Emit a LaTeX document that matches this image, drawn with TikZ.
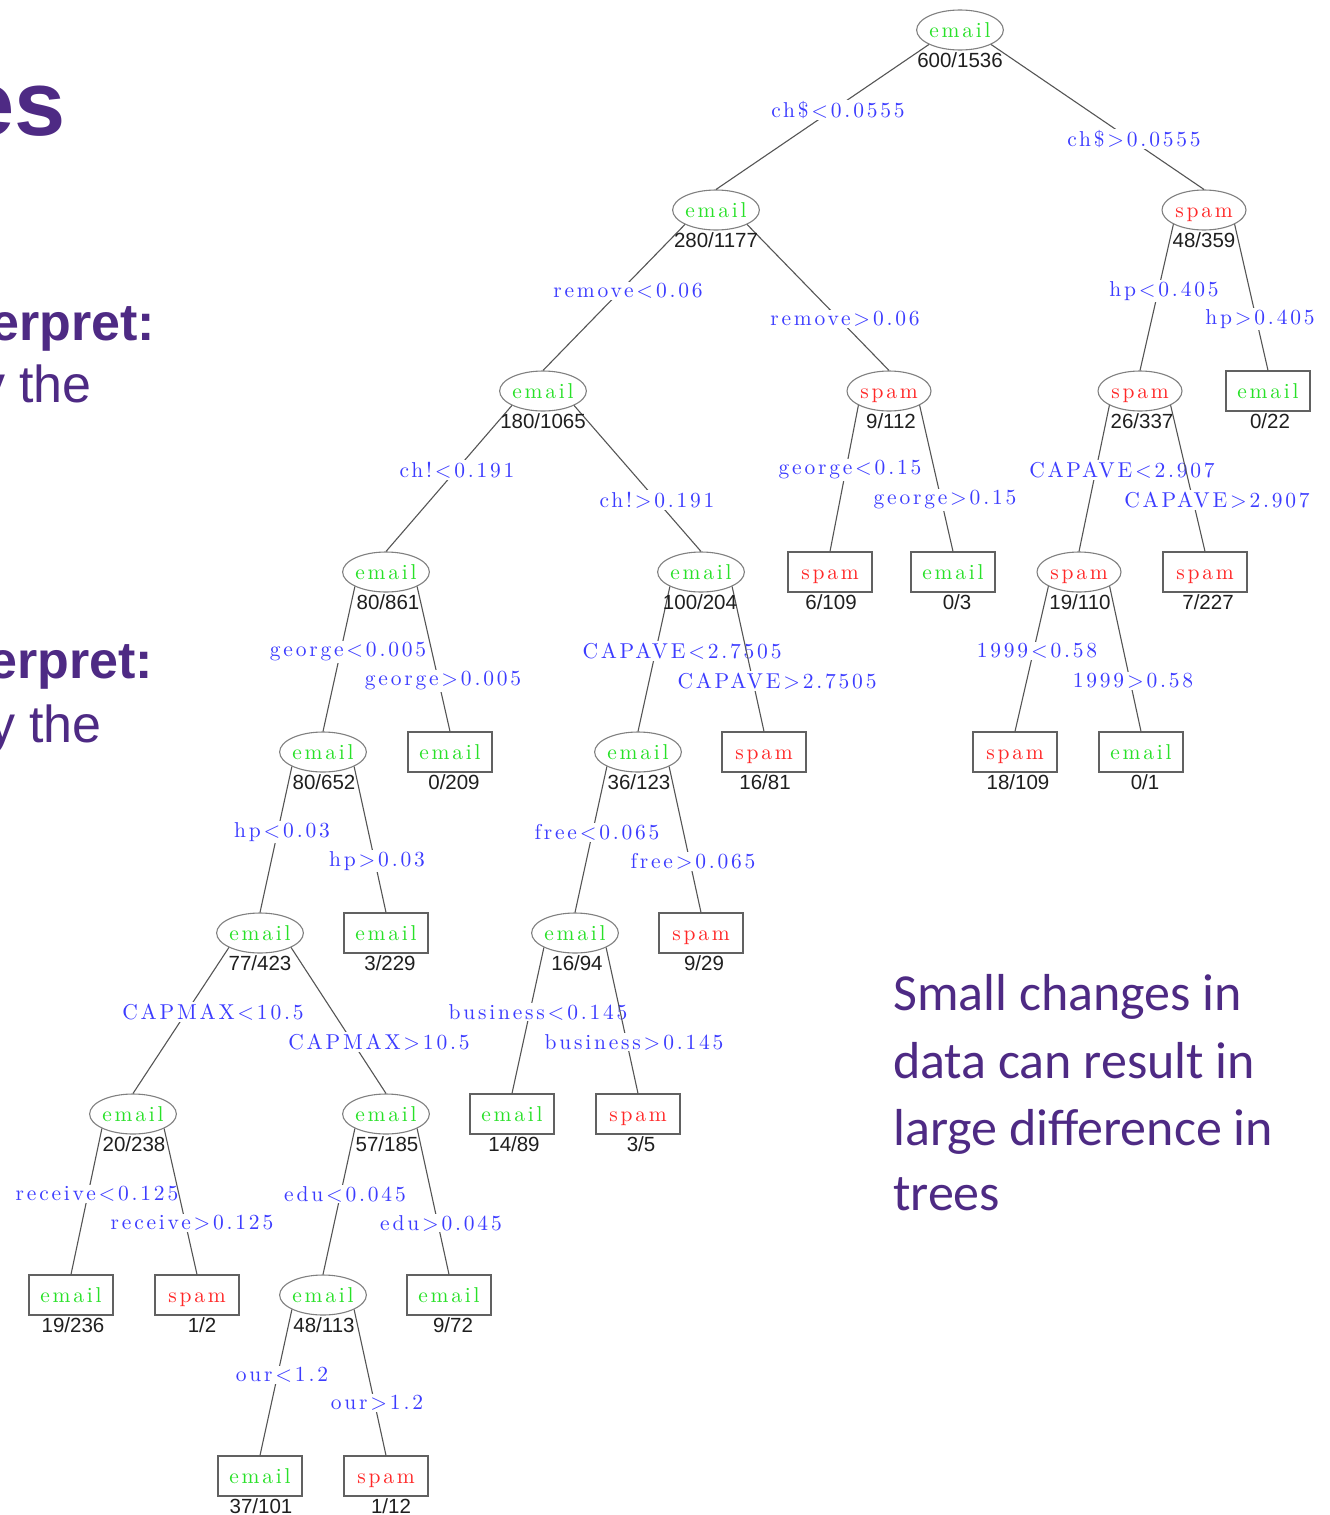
\documentclass[tikz,border=0pt]{standalone}
\usepackage{fontspec}
\usetikzlibrary{shapes.geometric}
\newfontfamily\lblfamily[LetterSpace=13]{lmroman10-regular.otf}
\newfontfamily\cntfamily{Liberation Sans}
\newfontfamily\califamily{Carlito}
\definecolor{nwpurple}{RGB}{78,42,132}
\definecolor{em}{RGB}{40,225,40}
\definecolor{sp}{RGB}{255,40,40}
\definecolor{lblblue}{RGB}{60,60,255}
\definecolor{edgegray}{RGB}{85,85,85}
\newcommand\lblfont{\lblfamily\fontsize{21.5}{24}\selectfont}
\newcommand\cntfont{\cntfamily\fontsize{20.5}{23}\selectfont}
\newcommand\tedge[6]{\draw[edge] (#1.#3) -- (#2.north); \node[lbl] (#4) at #5 {#6};}
\begin{document}
\begin{tikzpicture}[x=1pt,y=-1pt,
  inner/.style={ellipse, draw=black!50, line width=1.1pt, minimum width=84pt, minimum height=40pt, inner sep=0pt, font=\lblfont, text height=14pt, text depth=0pt},
  leaf/.style={rectangle, draw=black!62, line width=1.2pt, minimum width=84pt, minimum height=40pt, inner sep=0pt, font=\lblfont, text height=14pt, text depth=0pt},
  lbl/.style={fill=white, inner sep=1.5pt, text=lblblue, font=\lblfont},
  cnt/.style={font=\cntfont, text=black!88, inner sep=0pt},
  edge/.style={draw=edgegray, line width=1.1pt},
  slide/.style={text=nwpurple, inner sep=0pt},
]
\useasboundingbox (0,0) rectangle (1330,1515);
\clip (0,0) rectangle (1330,1515);
\fill[white] (0,0) rectangle (1330,1515);

% slide text fragments
\node[slide, anchor=base east, font=\cntfamily\bfseries\fontsize{92}{92}\selectfont] (t1) at (66,135) {es};
\node[slide, anchor=base east, font=\cntfamily\bfseries\fontsize{52}{60}\selectfont] (t2) at (155,340) {erpret:};
\node[slide, anchor=base east, font=\cntfamily\fontsize{52}{60}\selectfont] (t3) at (92,402) {y the};
\node[slide, anchor=base east, font=\cntfamily\bfseries\fontsize{52}{60}\selectfont] (t4) at (153,678) {erpret:};
\node[slide, anchor=base east, font=\cntfamily\fontsize{52}{60}\selectfont] (t5) at (102,742) {y the};
\node[slide, anchor=base west, font=\califamily\fontsize{52}{60}\selectfont] (r1) at (893,1010) {Small changes in};
\node[slide, anchor=base west, font=\califamily\fontsize{52}{60}\selectfont] (r2) at (893,1078) {data can result in};
\node[slide, anchor=base west, font=\califamily\fontsize{52}{60}\selectfont] (r3) at (893,1145) {large difference in};
\node[slide, anchor=base west, font=\califamily\fontsize{52}{60}\selectfont] (r4) at (893,1210) {trees};

% tree nodes
\node[inner, text=em] (n0) at (960,30) {email};
\node[inner, text=em] (n1) at (716,210) {email};
\node[inner, text=sp] (n2) at (1204,210) {spam};
\node[inner, text=em] (n3) at (543,391) {email};
\node[inner, text=sp] (n4) at (889,391) {spam};
\node[inner, text=sp] (n5) at (1140,391) {spam};
\node[leaf, text=em] (n6) at (1268,391) {email};
\node[inner, text=em] (n7) at (386,572) {email};
\node[inner, text=em] (n8) at (701,572) {email};
\node[leaf, text=sp] (n9) at (830,572) {spam};
\node[leaf, text=em] (n10) at (953,572) {email};
\node[inner, text=sp] (n11) at (1079,572) {spam};
\node[leaf, text=sp] (n12) at (1205,572) {spam};
\node[inner, text=em] (n13) at (323,752) {email};
\node[leaf, text=em] (n14) at (450,752) {email};
\node[inner, text=em] (n15) at (638,752) {email};
\node[leaf, text=sp] (n16) at (764,752) {spam};
\node[leaf, text=sp] (n17) at (1015,752) {spam};
\node[leaf, text=em] (n18) at (1141,752) {email};
\node[inner, text=em] (n19) at (260,933) {email};
\node[leaf, text=em] (n20) at (386,933) {email};
\node[inner, text=em] (n21) at (575,933) {email};
\node[leaf, text=sp] (n22) at (701,933) {spam};
\node[inner, text=em] (n23) at (133,1114) {email};
\node[inner, text=em] (n24) at (386,1114) {email};
\node[leaf, text=em] (n25) at (512,1114) {email};
\node[leaf, text=sp] (n26) at (638,1114) {spam};
\node[leaf, text=em] (n27) at (71,1295) {email};
\node[leaf, text=sp] (n28) at (197,1295) {spam};
\node[inner, text=em] (n29) at (323,1295) {email};
\node[leaf, text=em] (n30) at (449,1295) {email};
\node[leaf, text=em] (n31) at (260,1476) {email};
\node[leaf, text=sp] (n32) at (386,1476) {spam};

% edges with split labels
\tedge{n0}{n1}{205}{l1}{(838,110)}{ch\$<0.0555}
\tedge{n0}{n2}{335}{l2}{(1134,139)}{ch\$>0.0555}
\tedge{n1}{n3}{205}{l3}{(628,291)}{remove<0.06}
\tedge{n1}{n4}{335}{l4}{(845,319)}{remove>0.06}
\tedge{n2}{n5}{205}{l5}{(1164,291)}{hp<0.405}
\tedge{n2}{n6}{335}{l6}{(1260,319)}{hp>0.405}
\tedge{n3}{n7}{205}{l7}{(457,470)}{ch!<0.191}
\tedge{n3}{n8}{335}{l8}{(657,500)}{ch!>0.191}
\tedge{n4}{n9}{205}{l9}{(850,470)}{george<0.15}
\tedge{n4}{n10}{335}{l10}{(945,500)}{george>0.15}
\tedge{n5}{n11}{205}{l11}{(1122,470)}{CAPAVE<2.907}
\tedge{n5}{n12}{335}{l12}{(1217,500)}{CAPAVE>2.907}
\tedge{n7}{n13}{205}{l13}{(348,652)}{george<0.005}
\tedge{n7}{n14}{335}{l14}{(443,681)}{george>0.005}
\tedge{n8}{n15}{205}{l15}{(682,651)}{CAPAVE<2.7505}
\tedge{n8}{n16}{335}{l16}{(777,681)}{CAPAVE>2.7505}
\tedge{n11}{n17}{205}{l17}{(1037,651)}{1999<0.58}
\tedge{n11}{n18}{335}{l18}{(1133,681)}{1999>0.58}
\tedge{n13}{n19}{205}{l19}{(282,832)}{hp<0.03}
\tedge{n13}{n20}{335}{l20}{(377,861)}{hp>0.03}
\tedge{n15}{n21}{205}{l21}{(597,832)}{free<0.065}
\tedge{n15}{n22}{335}{l22}{(693,861)}{free>0.065}
\tedge{n19}{n23}{205}{l23}{(213,1012)}{CAPMAX<10.5}
\tedge{n19}{n24}{335}{l24}{(379,1042)}{CAPMAX>10.5}
\tedge{n21}{n25}{205}{l25}{(538,1012)}{business<0.145}
\tedge{n21}{n26}{335}{l26}{(634,1042)}{business>0.145}
\tedge{n23}{n27}{205}{l27}{(97,1194)}{receive<0.125}
\tedge{n23}{n28}{335}{l28}{(192,1223)}{receive>0.125}
\tedge{n24}{n29}{205}{l29}{(345,1194)}{edu<0.045}
\tedge{n24}{n30}{335}{l30}{(441,1223)}{edu>0.045}
\tedge{n29}{n31}{205}{l31}{(282,1375)}{our<1.2}
\tedge{n29}{n32}{335}{l32}{(377,1403)}{our>1.2}

% counts
\node[cnt] (c0) at (960,60) {600/1536};
\node[cnt] (c1) at (716,240) {280/1177};
\node[cnt] (c2) at (1204,240) {48/359};
\node[cnt] (c3) at (543,421) {180/1065};
\node[cnt] (c4) at (891,421) {9/112};
\node[cnt] (c5) at (1142,421) {26/337};
\node[cnt] (c6) at (1270,421) {0/22};
\node[cnt] (c7) at (388,602) {80/861};
\node[cnt] (c8) at (700,602) {100/204};
\node[cnt] (c9) at (831,602) {6/109};
\node[cnt] (c10) at (957,602) {0/3};
\node[cnt] (c11) at (1080,602) {19/110};
\node[cnt] (c12) at (1208,602) {7/227};
\node[cnt] (c13) at (324,782) {80/652};
\node[cnt] (c14) at (454,782) {0/209};
\node[cnt] (c15) at (639,782) {36/123};
\node[cnt] (c16) at (765,782) {16/81};
\node[cnt] (c17) at (1018,782) {18/109};
\node[cnt] (c18) at (1145,782) {0/1};
\node[cnt] (c19) at (260,963) {77/423};
\node[cnt] (c20) at (390,963) {3/229};
\node[cnt] (c21) at (577,963) {16/94};
\node[cnt] (c22) at (704,963) {9/29};
\node[cnt] (c23) at (134,1144) {20/238};
\node[cnt] (c24) at (387,1144) {57/185};
\node[cnt] (c25) at (514,1144) {14/89};
\node[cnt] (c26) at (641,1144) {3/5};
\node[cnt] (c27) at (73,1325) {19/236};
\node[cnt] (c28) at (202,1325) {1/2};
\node[cnt] (c29) at (324,1325) {48/113};
\node[cnt] (c30) at (453,1325) {9/72};
\node[cnt] (c31) at (261,1506) {37/101};
\node[cnt] (c32) at (391,1506) {1/12};
\end{tikzpicture}
\end{document}
